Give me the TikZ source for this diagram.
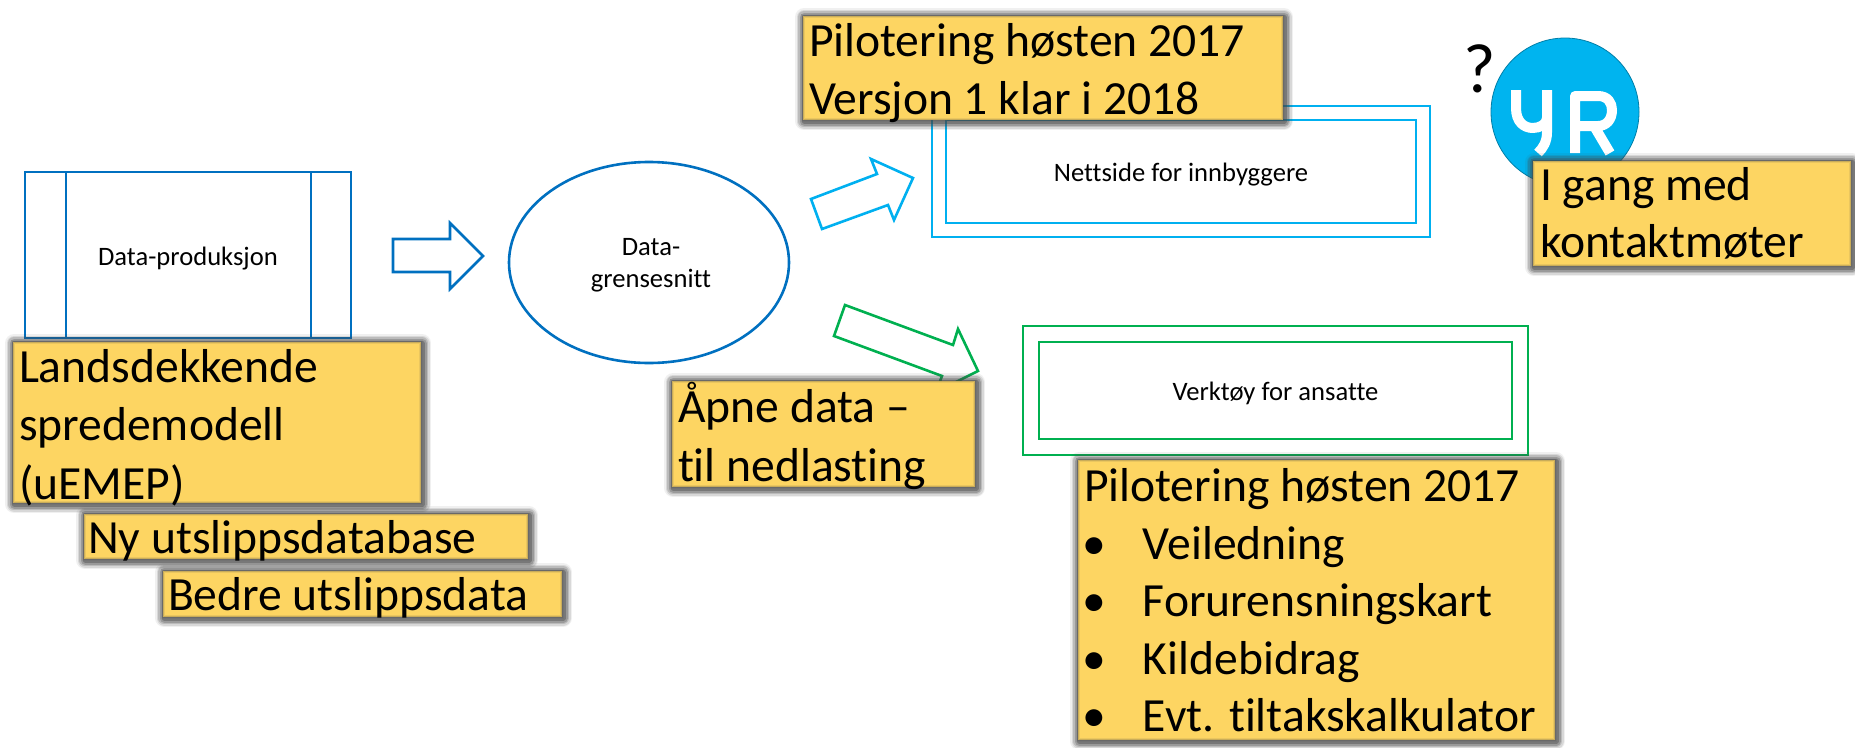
\documentclass[tikz,border=0pt]{standalone}
\usepackage{fontspec}
\setmainfont[Ligatures=NoCommon]{Carlito}
\definecolor{bluec}{HTML}{0070C0}
\definecolor{cyanc}{HTML}{00B0F0}
\definecolor{greenc}{HTML}{00B050}
\definecolor{yellowc}{HTML}{FDD562}
\definecolor{shadowc}{HTML}{454545}
\definecolor{yrc}{HTML}{00B4EF}
\newcommand{\ybody}[6]{\hbox to #1pt{\hskip #3pt\vbox to #2pt{\hsize=\dimexpr#1pt-#3pt\relax\lineskiplimit=-1000pt\baselineskip=#5pt\vskip\dimexpr#4pt-#5pt\relax\hbox{}#6\vss}\hss}}
\newcommand{\bul}[1]{\hbox{\hskip-2pt\hbox to 61pt{•\hss}#1}}
\tikzset{
  x=1pt,y=-1pt,
  shadowring/.style={draw=shadowc,line width=#1,line join=round},
  ybox/.style={
    anchor=north west,inner sep=0pt,outer sep=0pt,
    font=\fontsize{47.6}{58}\selectfont,
    preaction={transform canvas={shift={(1pt,-1.2pt)}},shadowring=18pt,draw opacity=.08},
    preaction={transform canvas={shift={(1pt,-1.2pt)}},shadowring=15pt,draw opacity=.14},
    preaction={transform canvas={shift={(1pt,-1.2pt)}},shadowring=12pt,draw opacity=.2},
    preaction={transform canvas={shift={(1pt,-1.2pt)}},shadowring=9pt,draw opacity=.28},
    preaction={transform canvas={shift={(1pt,-1.2pt)}},shadowring=5pt,draw opacity=.4},
    fill=yellowc,
    postaction={draw=shadowc,line width=4pt,draw opacity=.1},
    postaction={draw=shadowc,line width=1.5pt,draw opacity=.2}
  },
  small/.style={font=\fontsize{26.6}{33}\selectfont,text=black},
  flowbox/.style={rectangle,inner sep=0pt,outer sep=0pt,line width=2.6pt,small,text height=19pt,text depth=0pt},
  blockarrow/.style={line width=2.6pt,line join=miter,fill=white},
  yrstroke/.style={draw=white,line width=10pt,line cap=butt,line join=round}
}
\begin{document}
\begin{tikzpicture}
\useasboundingbox (0,0) rectangle (1855,747);
% data production
\node[flowbox,draw=bluec,minimum width=326pt,minimum height=166pt] (prod) at (188,255) {\raisebox{-1pt}{Data-produksjon}};
\coordinate (p1t) at (66,172); \coordinate (p1b) at (66,338);
\coordinate (p2t) at (311,172); \coordinate (p2b) at (311,338);
\draw[bluec,line width=2.6pt] (p1t) -- (p1b) (p2t) -- (p2b);
% arrow 1
\draw[blockarrow,draw=bluec] (393,239) -- (450,239) -- (450,223) -- (483,256) -- (450,289) -- (450,272) -- (393,272) -- cycle;
% interface
\draw[bluec,line width=2.6pt,fill=white] (649,262.5) ellipse [x radius=140,y radius=100.5];
\node[small,align=center,execute at begin node={\baselineskip=32pt}] (iface) at (651,265) {Data-\\grensesnitt};
% cyan arrow
\draw[blockarrow,draw=cyanc] (811,199) -- (877,174) -- (871,159) -- (913,178) -- (894,220) -- (888,205) -- (822,229) -- cycle;
% citizen site
\node[flowbox,draw=cyanc,minimum width=498pt,minimum height=131pt] (webouter) at (1181,171.5) {};
\node[flowbox,draw=cyanc,minimum width=470pt,minimum height=103pt] (webinner) at (1181,171.5) {Nettside for innbyggere};
\node[ybox,minimum width=480pt,minimum height=104pt] (pilot1) at (803,16) {\ybody{480}{104}{6}{40}{58}{\hbox{Pilotering høsten 2017}\hbox{Versjon 1 klar i 2018}}};
% green arrow
\draw[blockarrow,draw=greenc] (845,305) -- (953,345) -- (958,329) -- (978,371) -- (936,392) -- (942,376) -- (834,336) -- cycle;
% staff tool
\node[flowbox,draw=greenc,minimum width=505pt,minimum height=129pt] (tooouter) at (1275.5,390.5) {};
\node[flowbox,draw=greenc,minimum width=473pt,minimum height=97pt] (tooinner) at (1275.5,390.5) {Verktøy for ansatte};
\node[ybox,minimum width=303pt,minimum height=106pt] (open) at (672,381) {\ybody{303}{106}{6}{41.5}{59}{\hbox{Åpne data –}\hbox{til nedlasting}}};
\node[ybox,minimum width=477pt,minimum height=280pt] (pilot2) at (1078,460) {\ybody{477}{280}{6}{41.5}{57.5}{\hbox{Pilotering høsten 2017}\bul{Veiledning}\bul{Forurensningskart}\bul{Kildebidrag}\bul{Evt. tiltakskalkulator}}};
% left boxes
\node[ybox,minimum width=408pt,minimum height=161pt] (model) at (13,342) {\ybody{408}{161}{6}{40}{58.5}{\hbox{Landsdekkende}\hbox{spredemodell}\hbox{(uEMEP)}}};
\node[ybox,minimum width=444pt,minimum height=45pt] (emdb) at (84,514) {\ybody{444}{45}{4}{39.5}{58}{\hbox{Ny utslippsdatabase}}};
\node[ybox,minimum width=399pt,minimum height=46pt] (emdata) at (163,571) {\ybody{399}{46}{5}{39.5}{58}{\hbox{Bedre utslippsdata}}};
% yr
\node[font=\fontsize{70}{70}\selectfont,inner sep=0pt,anchor=base] (q) at (1480,92) {?};
\node[circle,fill=yrc,draw=yrc!70!black,line width=.8pt,minimum size=148pt,inner sep=0pt] (yr) at (1565,112) {};
\draw[yrstroke] (1516,90) -- (1516,108) .. controls (1516,122) and (1524,128) .. (1533,128) .. controls (1540,128) and (1547,124) .. (1547,118) (1547,90) -- (1547,132) .. controls (1547,142) and (1543,148) .. (1538,153);
\draw[yrstroke] (1575,153) -- (1575,96) -- (1598,96) .. controls (1608,96) and (1612,103) .. (1612,110) .. controls (1612,120) and (1606,126) .. (1598,126) -- (1575,126) (1594,126) -- (1610,153);
\node[ybox,minimum width=318pt,minimum height=105pt] (contact) at (1533,161) {\ybody{318}{105}{7}{39.5}{57}{\hbox{I gang med}\hbox{kontaktmøter}}};
\end{tikzpicture}
\end{document}
